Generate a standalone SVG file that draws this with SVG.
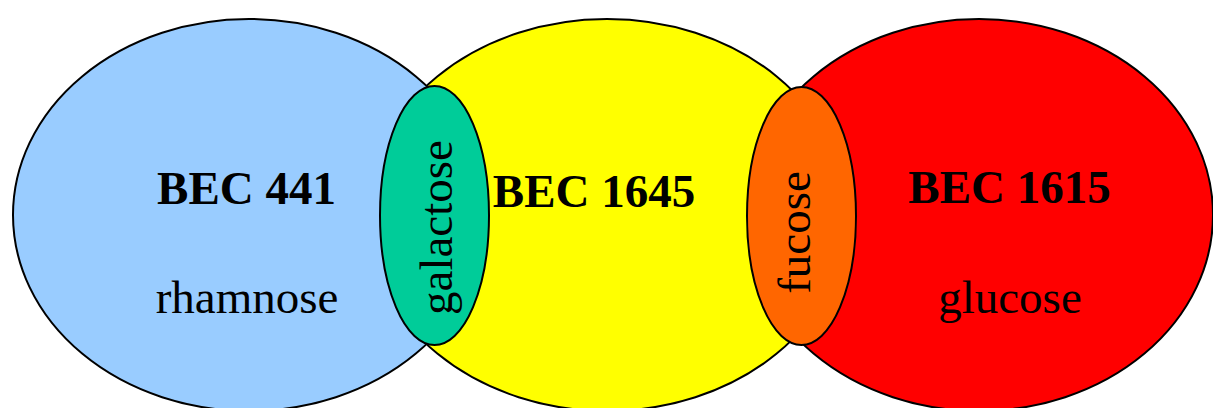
<svg xmlns="http://www.w3.org/2000/svg" width="1213" height="408" viewBox="0 0 1213 408">
  <style>
    .big { stroke: #000; stroke-width: 2; }
    .small { stroke: #000; stroke-width: 2; }
    .title { font-family: "Liberation Serif", "Times New Roman", serif; font-weight: bold; font-size: 47px; fill: #000; text-anchor: middle; }
    .sugar { font-family: "Liberation Serif", "Times New Roman", serif; font-size: 47px; fill: #000; text-anchor: middle; }
  </style>
  <rect width="1213" height="408" fill="#fff"/>
  <g id="bec1615">
    <ellipse class="big" cx="979" cy="215" rx="234" ry="196" fill="#FF0000"/>
  </g>
  <g id="bec1645">
    <ellipse class="big" cx="607" cy="215" rx="240" ry="196" fill="#FFFF00"/>
  </g>
  <g id="bec441">
    <ellipse class="big" cx="249" cy="215" rx="236" ry="196" fill="#99CCFF"/>
  </g>
  <g id="galactose">
    <ellipse class="small" cx="434.5" cy="215.5" rx="54.5" ry="129.5" fill="#00CC99"/>
    <text class="sugar" transform="translate(452 227.5) rotate(-90)">galactose</text>
  </g>
  <g id="fucose">
    <ellipse class="small" cx="801.5" cy="216" rx="54.5" ry="129" fill="#FF6600"/>
    <text class="sugar" transform="translate(810 232.5) rotate(-90)">fucose</text>
  </g>
  <g id="labels441">
    <text class="title" x="246.5" y="204">BEC 441</text>
    <text class="sugar" x="247" y="313">rhamnose</text>
  </g>
  <g id="labels1645">
    <text class="title" x="594" y="207">BEC 1645</text>
  </g>
  <g id="labels1615">
    <text class="title" x="1009.5" y="203">BEC 1615</text>
    <text class="sugar" x="1010" y="313">glucose</text>
  </g>
  <g id="connectors"></g>
</svg>
